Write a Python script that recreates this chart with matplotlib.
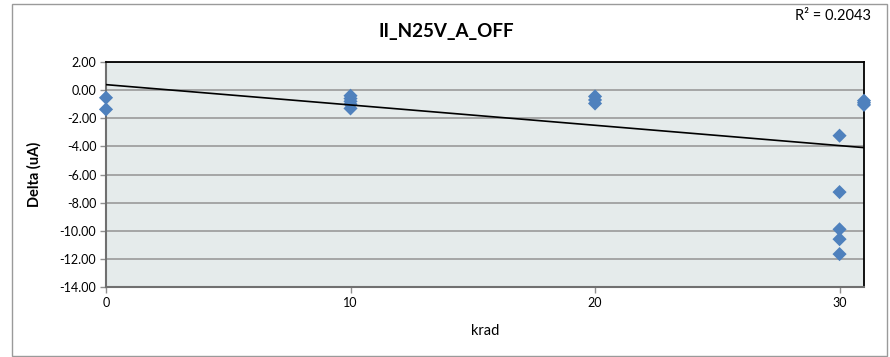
import matplotlib
matplotlib.use("Agg")
import matplotlib.pyplot as plt
from matplotlib.patches import Rectangle
import numpy as np

plt.rcParams['font.family'] = ['Lato', 'DejaVu Sans']

title = "II_N25V_A_OFF"
x_label = "krad"
y_label = "Delta (uA)"

dose_krad = [0, 0,
             10, 10, 10, 10, 10,
             20, 20, 20,
             30, 30, 30, 30, 30,
             31, 31, 31]
delta_uA = [-0.54, -1.37,
            -0.40, -0.60, -0.80, -1.00, -1.30,
            -0.45, -0.70, -0.95,
            -3.24, -7.25, -9.90, -10.60, -11.66,
            -0.75, -0.90, -1.05]

trend_intercept = 0.39
trend_slope = -0.1445
r_squared = 0.2043

x_ticks = [0, 10, 20, 30]
y_ticks = [2, 0, -2, -4, -6, -8, -10, -12, -14]

W, H = 890, 357
fig = plt.figure(figsize=(W / 100, H / 100), dpi=100)
fig.patch.set_facecolor('white')

# outer chart border
fig.patches.append(Rectangle((12 / W, 1 - 356 / H), (887 - 12) / W, (356 - 4) / H,
                             transform=fig.transFigure, fill=False,
                             edgecolor='#9a9a9a', linewidth=1.0))

ax = fig.add_axes([106 / W, 1 - 287 / H, (864 - 106) / W, (287 - 62) / H])
ax.set_facecolor('#E5EBEB')
ax.set_xlim(0, 31)
ax.set_ylim(-14, 2)

ax.set_yticks(y_ticks)
ax.set_yticklabels([f"{v:.2f}" for v in y_ticks], fontsize=9)
ax.set_xticks(x_ticks)
ax.set_xticklabels([str(v) for v in x_ticks], fontsize=9)

ax.grid(axis='y', color='#A0A0A0', linewidth=1.3)
ax.set_axisbelow(True)

for s in ['top', 'right']:
    ax.spines[s].set_color('black')
    ax.spines[s].set_linewidth(1.3)
for s in ['left', 'bottom']:
    ax.spines[s].set_color('#707070')
    ax.spines[s].set_linewidth(1.5)

ax.tick_params(axis='both', direction='out', length=4, width=1, color='#909090',
               labelcolor='black', pad=3)

ax.scatter(dose_krad, delta_uA, marker='D', s=52, color='#4F81BD',
           edgecolors='none', zorder=3, clip_on=False)

xt = np.array([0, 31])
ax.plot(xt, trend_intercept + trend_slope * xt, color='black', linewidth=1.2, zorder=4)

ax.set_xlabel(x_label, fontsize=10.5, labelpad=11)
ax.set_ylabel(y_label, fontsize=10.5, fontweight='bold', labelpad=13)

fig.text(446 / W, 1 - 32 / H, title, fontsize=13.5, fontweight='bold',
         ha='center', va='center')
fig.text(871 / W, 1 - 16 / H, "R\u00b2 = " + f"{r_squared:.4f}", fontsize=10.5,
         ha='right', va='center')

fig.savefig("out.png", dpi=100)
